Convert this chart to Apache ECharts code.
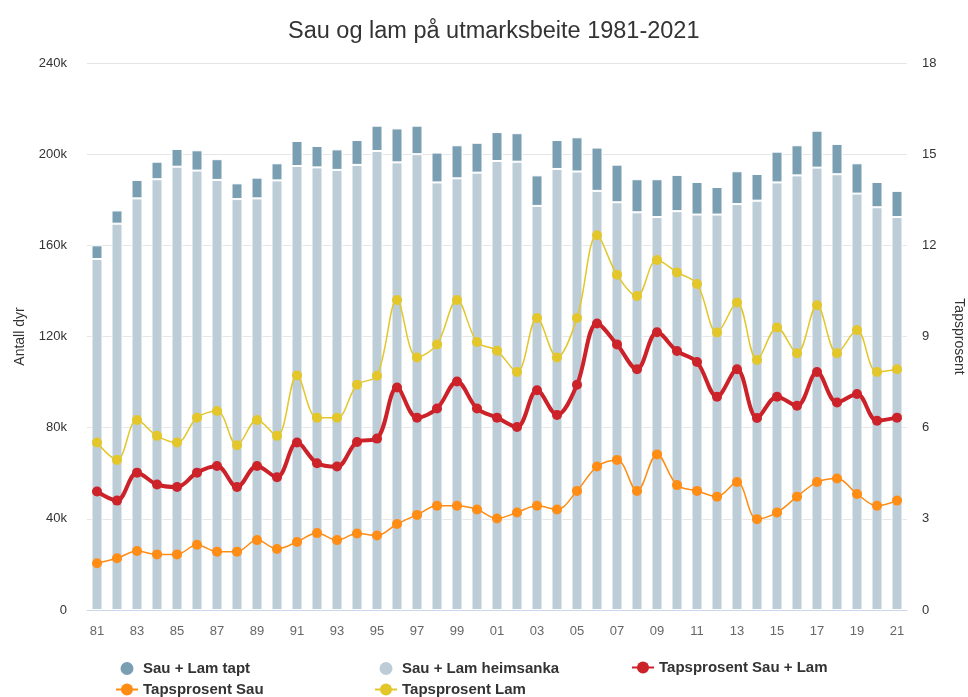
<!DOCTYPE html>
<html>
<head>
<meta charset="utf-8">
<script src="https://cdn.jsdelivr.net/npm/echarts@6/dist/echarts.min.js"></script>
<style>html,body{margin:0;padding:0;background:#fff}#c{width:968px;height:697px}</style>
</head>
<body>
<div id="c"></div>
<script>
var years = ['81','82','83','84','85','86','87','88','89','90','91','92','93','94','95','96','97','98','99','00','01','02','03','04','05','06','07','08','09','10','11','12','13','14','15','16','17','18','19','20','21'];
var heimsanka = [154000,169500,180600,189000,194500,192800,188700,180300,180600,188500,194800,194200,193100,195300,201400,196400,200000,187600,189400,191900,197000,196700,177300,193500,192400,183900,178900,174500,172400,175000,173500,173500,178100,179600,187600,190700,194100,191200,182700,176700,172400];
var tapt = [6000,5800,8100,7700,7800,8900,9100,6900,9100,7500,11000,9400,9000,10900,11100,14900,12500,13100,14500,13100,12700,12500,13400,12700,15000,19000,16500,14500,16600,15900,14300,12100,14400,11700,13500,13200,16200,13300,13300,11100,11500];
var pctTotal = [3.90,3.60,4.52,4.13,4.05,4.52,4.74,4.05,4.74,4.37,5.51,4.83,4.72,5.53,5.64,7.32,6.33,6.63,7.52,6.63,6.33,6.02,7.23,6.42,7.41,9.43,8.74,7.92,9.14,8.52,8.16,7.02,7.92,6.32,7.02,6.72,7.83,6.83,7.11,6.23,6.33];
var pctSau = [1.54,1.70,1.94,1.83,1.83,2.15,1.92,1.92,2.30,2.01,2.24,2.53,2.30,2.52,2.45,2.83,3.13,3.43,3.43,3.31,3.01,3.21,3.43,3.31,3.92,4.72,4.94,3.92,5.12,4.11,3.92,3.73,4.21,2.99,3.21,3.73,4.21,4.33,3.82,3.43,3.60];
var pctLam = [5.51,4.94,6.25,5.73,5.51,6.33,6.55,5.42,6.25,5.73,7.72,6.33,6.33,7.41,7.71,10.20,8.31,8.74,10.20,8.82,8.53,7.83,9.61,8.31,9.61,12.33,11.03,10.33,11.52,11.11,10.73,9.13,10.12,8.23,9.30,8.45,10.03,8.45,9.21,7.83,7.92];

var FONT = '"Liberation Sans", Arial, sans-serif';
var chart = echarts.init(document.getElementById('c'));
function legendAt(left, data) {
  return {
    orient: 'vertical', left: left, top: 660, height: 40, itemGap: 5, itemWidth: 22, itemHeight: 15,
    padding: 0,
    textStyle: {fontFamily: FONT, fontSize: 15, fontWeight: 'bold', color: '#333'},
    selectedMode: false, data: data
  };
}
chart.setOption({
  animation: false,
  textStyle: {fontFamily: FONT},
  title: {
    text: 'Sau og lam på utmarksbeite 1981-2021', left: 283, top: 15,
    textStyle: {fontFamily: FONT, fontSize: 23.5, fontWeight: 'normal', color: '#333'}
  },
  legend: [
    legendAt(115, [{name:'Sau + Lam tapt', icon:'circle'}, 'Tapsprosent Sau']),
    legendAt(374, [{name:'Sau + Lam heimsanka', icon:'circle'}, 'Tapsprosent Lam']),
    legendAt(631, ['Tapsprosent Sau + Lam'])
  ],
  grid: {left: 87, right: 61, top: 63, bottom: 87, outerBoundsMode: 'none', containLabel: false},
  xAxis: {
    type: 'category', data: years,
    axisLine: {lineStyle: {color: '#ccd6eb'}},
    axisTick: {show: false},
    axisLabel: {interval: 1, color: '#666', fontSize: 13, margin: 15, fontFamily: FONT}
  },
  yAxis: [
    {
      type: 'value', min: 0, max: 240000, interval: 40000,
      name: 'Antall dyr', nameLocation: 'middle', nameGap: 60,
      nameTextStyle: {color: '#333', fontSize: 14, fontFamily: FONT},
      axisLabel: {color: '#333', fontSize: 13, margin: 20, fontFamily: FONT,
        formatter: function (v) { return v === 0 ? '0' : (v / 1000) + 'k'; }},
      splitLine: {lineStyle: {color: '#e6e6e6'}},
      axisLine: {show: false}, axisTick: {show: false}
    },
    {
      type: 'value', min: 0, max: 18, interval: 3,
      name: 'Tapsprosent', nameLocation: 'middle', nameGap: 45, nameRotate: -90,
      nameTextStyle: {color: '#333', fontSize: 14, fontFamily: FONT},
      axisLabel: {color: '#333', fontSize: 13, margin: 15, fontFamily: FONT},
      splitLine: {show: false}, axisLine: {show: false}, axisTick: {show: false}
    }
  ],
  series: [
    {
      name: 'Sau + Lam heimsanka', type: 'bar', stack: 'tot', data: heimsanka,
      barWidth: 11, itemStyle: {color: '#bccdd8', borderColor: '#fff', borderWidth: 1}
    },
    {
      name: 'Sau + Lam tapt', type: 'bar', stack: 'tot', data: tapt,
      barWidth: 11, itemStyle: {color: '#7a9fb3', borderColor: '#fff', borderWidth: 1}
    },
    {
      name: 'Tapsprosent Lam', type: 'line', yAxisIndex: 1, data: pctLam, smooth: 0.35,
      symbol: 'circle', symbolSize: 10,
      lineStyle: {color: '#e3c62a', width: 1.5}, itemStyle: {color: '#e3c62a'}
    },
    {
      name: 'Tapsprosent Sau', type: 'line', yAxisIndex: 1, data: pctSau, smooth: 0.35,
      symbol: 'circle', symbolSize: 10,
      lineStyle: {color: '#ff8c14', width: 1.5}, itemStyle: {color: '#ff8c14'}
    },
    {
      name: 'Tapsprosent Sau + Lam', type: 'line', yAxisIndex: 1, data: pctTotal, smooth: 0.35,
      symbol: 'circle', symbolSize: 10,
      lineStyle: {color: '#cc2229', width: 4}, itemStyle: {color: '#cc2229'}
    }
  ]
});
</script>
</body>
</html>
